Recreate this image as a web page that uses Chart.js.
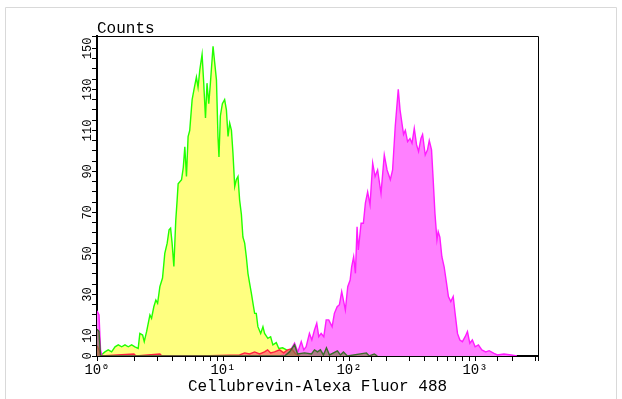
<!DOCTYPE html>
<html>
<head>
<meta charset="utf-8">
<script src="https://cdn.jsdelivr.net/npm/chart.js@4"></script>
<style>
  body { margin: 0; background: #fff; }
  #wrap { width: 622px; height: 399px; position: relative; }
</style>
</head>
<body>
<div id="wrap"><canvas id="histChart"></canvas></div>
<script>
// log10 of fluorescence intensity, and event counts
const ctrlLog = [0.024, 0.063, 0.089, 0.116, 0.143, 0.169, 0.196, 0.222, 0.248, 0.275, 0.301, 0.327, 0.340, 0.362, 0.375, 0.394,
    0.420, 0.433, 0.451, 0.467, 0.481, 0.499, 0.520, 0.538, 0.557, 0.572, 0.584, 0.596, 0.610, 0.625, 0.636, 0.644, 0.671, 0.685,
    0.697, 0.710, 0.723, 0.736, 0.755, 0.770, 0.789, 0.802, 0.816, 0.834, 0.847, 0.861, 0.873, 0.887, 0.900, 0.921, 0.934, 0.948,
    0.960, 0.968, 0.979, 0.995, 1.013, 1.027, 1.040, 1.053, 1.067, 1.079, 1.093, 1.106, 1.119, 1.132, 1.146, 1.158, 1.172, 1.185,
    1.198, 1.211, 1.225, 1.238, 1.251, 1.264, 1.277, 1.299, 1.317, 1.330, 1.356, 1.378, 1.396, 1.423, 1.443, 1.473, 1.504, 1.536,
    1.568, 1.607];
const ctrlCounts = [0, 2, 3, 2, 4.5, 5.4, 4.5, 5.4, 4.5, 5.4, 4.5, 3.7, 11, 10.2, 7, 12,
    20, 18.4, 24, 27.3, 25.7, 33.8, 38, 50, 55, 61.5, 62.3, 55, 43.6, 66, 76, 84, 86, 92,
    102, 87.5, 107, 110, 125, 130, 136, 131, 139.5, 147, 133, 116, 133, 123, 133, 151, 143, 134.6,
    107, 97, 117, 123, 125, 120, 107, 113.5, 110, 99, 82.6, 86, 87.5, 76, 69, 58, 55, 48.4,
    40.3, 35.5, 30.6, 25.7, 20.8, 20.8, 14.3, 11, 14.3, 11, 8.6, 9.4, 5.4, 6.5, 3.7, 4, 3, 1.5,
    0.5, 0];

const sampleLog = [0, 0.016, 0.028, 0.040, 1.450, 1.489, 1.528, 1.568, 1.594, 1.621, 1.641, 1.660, 1.686, 1.705, 1.726, 1.744,
    1.760, 1.779, 1.800, 1.819, 1.839, 1.866, 1.884, 1.906, 1.924, 1.942, 1.958, 1.971, 1.990, 2.009, 2.021, 2.037,
    2.051, 2.064, 2.074, 2.096, 2.114, 2.130, 2.148, 2.167, 2.188, 2.207, 2.227, 2.254, 2.280, 2.302, 2.328, 2.346,
    2.367, 2.391, 2.405, 2.420, 2.433, 2.447, 2.465, 2.484, 2.500, 2.518, 2.536, 2.552, 2.571, 2.584, 2.605, 2.623,
    2.637, 2.655, 2.668, 2.682, 2.698, 2.708, 2.721, 2.737, 2.755, 2.774, 2.789, 2.808, 2.827, 2.842, 2.861, 2.880,
    2.900, 2.922, 2.940, 2.959, 2.979, 3.001, 3.027, 3.054, 3.085, 3.112, 3.151, 3.177, 3.230, 3.286, 3.333];
const sampleCounts = [22, 20, 3, 0, 0, 1, 2, 6.3, 2, 7, 3, 4.5, 11, 7.8, 12.7, 16,
    9.4, 11, 9.4, 17.6, 17.6, 14.3, 20.8, 24, 25, 31.4, 26.5, 22.4, 33.8, 37, 43.5, 48.4,
    40.3, 63, 51.7, 64.7, 64.7, 74.5, 80, 73.7, 94, 87.5, 90.7, 79.3, 98, 90.7, 86, 90.7,
    112, 130, 120, 113.5, 108, 110, 104.5, 106, 103.7, 111, 103, 99.7, 106, 108, 98, 100.5,
    105, 100.5, 86, 69.6, 56.6, 60.6, 58, 48.4, 43.5, 35.5, 29, 26.5, 29, 20.8, 11, 7.8,
    7, 9.4, 11.9, 6.2, 7.8, 4.5, 5.4, 3, 2, 2.6, 1.3, 0.5, 1, 0.5, 0];

const isoLog = [0, 0.016, 0.032, 0.293, 0.309, 0.499, 0.515, 0.816, 1.132, 1.172, 1.211, 1.251, 1.290, 1.330,
    1.354, 1.378, 1.409, 1.449, 1.481, 1.512, 1.544, 1.576, 1.607];
const isoCounts = [5, 3, 0, 1, 0, 1, 0, 0, 0.5, 1.5, 1, 2, 1, 2, 3, 1.5, 2, 3, 1.5, 3, 3.5, 1, 0];

const blankLog = [0, 0.016, 0.028, 1.489, 1.528, 1.568, 1.592, 1.647, 1.702, 1.726, 1.750, 1.773, 1.797, 1.821,
    1.845, 1.908, 1.932, 1.956, 1.987, 2.138, 2.161, 2.201, 2.225];
const blankCounts = [13, 12, 0, 0, 2, 5.5, 1, 1.5, 1, 3, 2, 3, 0.5, 4, 0.5, 2.5, 0.5, 2, 0, 1.5, 0, 1, 0];

const decadeLabels = ['10\u2070', '10\u00b9', '10\u00b2', '10\u00b3'];
const countLabels = [0, 10, 30, 50, 70, 90, 110, 130, 150];

const toPoints = (logs, counts) => logs.map((l, i) => ({ x: Math.pow(10, l), y: counts[i] }));

const FONT = '"Liberation Mono", "DejaVu Sans Mono", monospace';

const framePlugin = {
    id: 'frame',
    afterDraw: (chart) => {
        const ctx = chart.ctx;
        const a = chart.chartArea;
        ctx.save();
        // faint outer border of the picture
        ctx.strokeStyle = '#d9d9d9';
        ctx.lineWidth = 1;
        ctx.beginPath();
        ctx.moveTo(5.5, 399);
        ctx.lineTo(5.5, 7.5);
        ctx.lineTo(616.5, 7.5);
        ctx.lineTo(616.5, 399);
        ctx.stroke();
        // top and right edges of the plot box
        ctx.strokeStyle = '#000';
        ctx.beginPath();
        ctx.moveTo(a.left, a.top + 0.5);
        ctx.lineTo(a.right + 0.5, a.top + 0.5);
        ctx.lineTo(a.right + 0.5, a.bottom);
        ctx.stroke();
        ctx.fillStyle = '#000';
        ctx.font = '16px ' + FONT;
        ctx.textBaseline = 'alphabetic';
        ctx.fillText('Counts', a.left, a.top - 3);
        ctx.restore();
    }
};

const data = {
    datasets: [{
        label: 'blank',
        data: toPoints(blankLog, blankCounts),
        borderColor: '#3a6b2a',
        backgroundColor: 'rgba(120,120,60,0.6)',
        fill: 'origin',
        order: 0
    }, {
        label: 'isotype',
        data: toPoints(isoLog, isoCounts),
        borderColor: '#ff2040',
        backgroundColor: 'rgba(255,110,110,0.8)',
        fill: 'origin',
        order: 1
    }, {
        label: 'Cellubrevin',
        data: toPoints(sampleLog, sampleCounts),
        borderColor: '#ff1cff',
        backgroundColor: '#ff80ff',
        fill: 'origin',
        order: 2
    }, {
        label: 'control',
        data: toPoints(ctrlLog, ctrlCounts),
        borderColor: '#22ff00',
        backgroundColor: '#ffff80',
        fill: 'origin',
        order: 3
    }]
};

const config = {
    type: 'line',
    data: data,
    options: {
        responsive: true,
        maintainAspectRatio: false,
        animation: false,
        layout: {
            padding: { left: 0, top: 36, right: 84, bottom: 0 }
        },
        elements: {
            point: { radius: 0 },
            line: { borderWidth: 1.4, tension: 0 }
        },
        plugins: {
            legend: { display: false },
            tooltip: { enabled: false }
        },
        scales: {
            x: {
                type: 'logarithmic',
                min: 1,
                max: 3162,
                afterFit: (scale) => { scale.height = 43; },
                border: { display: true, color: '#000', width: 2 },
                grid: { drawOnChartArea: false, drawTicks: true, tickLength: 5, color: '#000' },
                ticks: {
                    autoSkip: false,
                    maxRotation: 0,
                    padding: 1,
                    color: '#000',
                    font: { family: FONT, size: 14 },
                    callback: (v) => {
                        const e = Math.round(Math.log10(v));
                        return Math.abs(Math.log10(v) - e) < 1e-6 ? decadeLabels[e] : '';
                    }
                },
                title: {
                    display: true,
                    text: 'Cellubrevin-Alexa Fluor 488',
                    color: '#000',
                    font: { family: FONT, size: 16 },
                    padding: { top: 0, bottom: 3 }
                }
            },
            y: {
                min: 0,
                max: 156,
                afterFit: (scale) => { scale.width = 97; },
                border: { display: true, color: '#000', width: 2 },
                grid: { drawOnChartArea: false, drawTicks: true, tickLength: 5, color: '#000' },
                ticks: {
                    stepSize: 5,
                    autoSkip: false,
                    minRotation: 90,
                    maxRotation: 90,
                    crossAlign: 'center',
                    padding: -7,
                    color: '#000',
                    font: { family: FONT, size: 12 },
                    callback: (v) => countLabels.includes(v) ? String(v) : ''
                }
            }
        }
    },
    plugins: [framePlugin]
};

const histChart = new Chart(document.getElementById('histChart'), config);
</script>
</body>
</html>
